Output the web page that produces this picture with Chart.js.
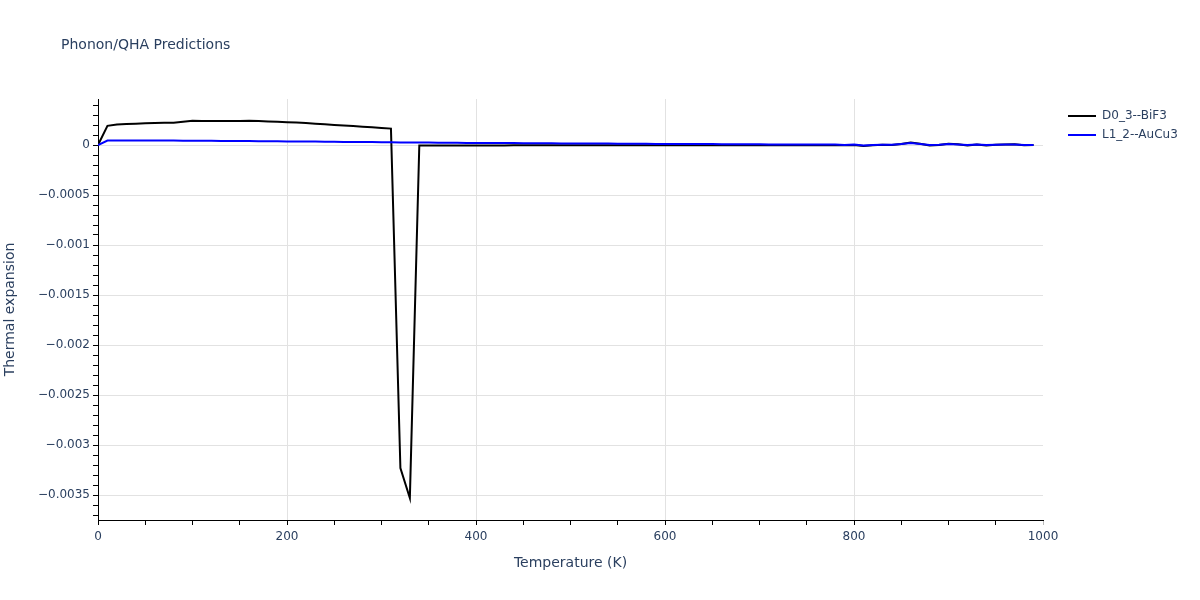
<!DOCTYPE html>
<html>
<head>
<meta charset="utf-8">
<title>Phonon/QHA Predictions</title>
<script src="https://cdn.jsdelivr.net/npm/chart.js@4.4.0/dist/chart.umd.min.js"></script>
<style>
  html, body { margin: 0; padding: 0; background: #fff; }
  #wrap { width: 1200px; height: 600px; }
</style>
</head>
<body>
<div id="wrap"><canvas id="chart" width="1200" height="600"></canvas></div>
<script>
  // temperatures (K)
  const temps = [
    0, 10, 20, 30, 40, 50, 60, 70, 80, 90,
    100, 110, 120, 130, 140, 150, 160, 170, 180, 190,
    200, 210, 220, 230, 240, 250, 260, 270, 280, 290,
    300, 310, 320, 330, 340, 350, 360, 370, 380, 390,
    400, 410, 420, 430, 440, 450, 460, 470, 480, 490,
    500, 510, 520, 530, 540, 550, 560, 570, 580, 590,
    600, 610, 620, 630, 640, 650, 660, 670, 680, 690,
    700, 710, 720, 730, 740, 750, 760, 770, 780, 790,
    800, 810, 820, 830, 840, 850, 860, 870, 880, 890,
    900, 910, 920, 930, 940, 950, 960, 970, 980, 990
  ];

  // D0_3--BiF3
  const bif3 = [
    0, 0.000192, 0.000205, 0.000209, 0.000213, 0.000217, 0.000221, 0.000222, 0.000222, 0.000233,
    0.000243, 0.00024, 0.00024, 0.00024, 0.000241, 0.000241, 0.000242, 0.00024, 0.000236, 0.000232,
    0.000228, 0.000224, 0.000219, 0.000213, 0.000207, 0.000201, 0.000195, 0.000189, 0.000183, 0.000177,
    0.000171, 0.000164, -0.00323, -0.00353, -0.000004, -0.000004, -0.000004, -0.000004, -0.000004, -0.000004,
    -0.000004, -0.000004, -0.000004, -0.000004, -0.000003, -0.000003, -0.000003, -0.000003, -0.000003, -0.000003,
    -0.000003, -0.000003, -0.000003, -0.000003, -0.000003, -0.000003, -0.000003, -0.000003, -0.000003, -0.000003,
    -0.000003, -0.000003, -0.000003, -0.000002, -0.000002, -0.000002, -0.000002, -0.000002, -0.000002, -0.000002,
    -0.000002, -0.000002, -0.000002, -0.000002, -0.000002, -0.000002, -0.000002, -0.000002, 0.000001, -0.000002,
    0.000001, -0.000011, -0.000003, 0.000002, 0.000001, 0.000011, 0.000024, 0.000013, -0.000004, 0.000001,
    0.000013, 0.000007, -0.000005, 0.000006, -0.000006, 0.000002, 0.000004, 0.000008, -0.000002, -0.000001
  ];

  // L1_2--AuCu3
  const aucu3 = [
    0, 0.000045, 0.000046, 0.000046, 0.000045, 0.000045, 0.000045, 0.000044, 0.000044, 0.000043,
    0.000043, 0.000042, 0.000042, 0.000041, 0.00004, 0.00004, 0.000039, 0.000038, 0.000038, 0.000037,
    0.000036, 0.000035, 0.000035, 0.000034, 0.000033, 0.000032, 0.000031, 0.000031, 0.00003, 0.000029,
    0.000028, 0.000027, 0.000026, 0.000025, 0.000024, 0.000024, 0.000023, 0.000023, 0.000022, 0.000021,
    0.000021, 0.00002, 0.00002, 0.000019, 0.000019, 0.000018, 0.000018, 0.000017, 0.000017, 0.000016,
    0.000016, 0.000015, 0.000015, 0.000014, 0.000014, 0.000013, 0.000013, 0.000012, 0.000012, 0.000011,
    0.000011, 0.00001, 0.00001, 0.000009, 0.000009, 0.000009, 0.000008, 0.000008, 0.000007, 0.000007,
    0.000007, 0.000006, 0.000006, 0.000005, 0.000005, 0.000005, 0.000004, 0.000004, 0.000006, 0.000001,
    0.000004, -0.000006, 0.000001, 0.000003, 0.000002, 0.000009, 0.00002, 0.000011, 0.000001, 0.000002,
    0.000009, 0.000006, 0.000001, 0.000005, -0.000001, 0.000002, 0.000004, 0.000006, 0.000001, 0
  ];

  const seriesNames = ['D0_3--BiF3', 'L1_2--AuCu3'];

  const xTickVals = [0, 200, 400, 600, 800, 1000];
  const xTickLabels = ['0', '200', '400', '600', '800', '1000'];
  const yTickVals = [0, -0.0005, -0.001, -0.0015, -0.002, -0.0025, -0.003, -0.0035];
  const yTickLabels = ['0', '\u22120.0005', '\u22120.001', '\u22120.0015', '\u22120.002', '\u22120.0025', '\u22120.003', '\u22120.0035'];

  const textColor = '#2a3f5f';
  const gridColor = '#e2e2e2';
  const none = 'rgba(0,0,0,0)';
  const family = '"DejaVu Sans", Verdana, sans-serif';
  Chart.defaults.font.family = family;

  const near = (a, b) => Math.abs(a - b) < 1e-9;
  const labelFor = (v, vals, labels) => {
    const i = vals.findIndex((t) => near(t, v));
    return i < 0 ? '' : labels[i];
  };
  const isMajor = (v, vals) => vals.some((t) => near(t, v));

  // title drawn at plotly-like spot, left of the plot area
  const titlePlugin = {
    id: 'plotTitle',
    afterDraw(chart) {
      const ctx = chart.ctx;
      ctx.save();
      ctx.font = '14px ' + family;
      ctx.fillStyle = textColor;
      ctx.textBaseline = 'middle';
      ctx.fillText('Phonon/QHA Predictions', 61, 45);
      ctx.restore();
    }
  };

  // keep the legend box snug to the right while leaving a gap after the plot
  const legendShift = {
    id: 'legendShift',
    afterInit(chart) {
      const lg = chart.legend;
      const fit = lg.fit.bind(lg);
      lg.fit = function () { fit(); this.width = 144; };
      const draw = lg.draw.bind(lg);
      lg.draw = function () {
        this.left += 18; this.top += 4;
        draw();
        this.left -= 18; this.top -= 4;
      };
    }
  };

  const ctx = document.getElementById('chart').getContext('2d');
  new Chart(ctx, {
    type: 'line',
    data: {
      labels: temps,
      datasets: [{
        label: seriesNames[0],
        data: bif3,
        borderColor: '#000000',
        backgroundColor: '#000000',
        borderWidth: 2,
        pointRadius: 0,
        tension: 0,
        order: 1
      }, {
        label: seriesNames[1],
        data: aucu3,
        borderColor: '#0000ff',
        backgroundColor: '#0000ff',
        borderWidth: 2,
        pointRadius: 0,
        tension: 0,
        order: 0
      }]
    },
    options: {
      responsive: false,
      animation: false,
      layout: { padding: { left: 0, top: 99, right: 13, bottom: 24 } },
      plugins: {
        title: { display: false },
        tooltip: { enabled: false },
        legend: {
          position: 'right',
          align: 'start',
          labels: {
            usePointStyle: true,
            pointStyle: 'line',
            pointStyleWidth: 28,
            padding: 7,
            color: textColor,
            font: { size: 12 },
            sort: (a, b) => a.datasetIndex - b.datasetIndex
          }
        }
      },
      scales: {
        x: {
          type: 'linear',
          min: 0,
          max: 1000,
          afterFit: (s) => { s.height = 56; },
          afterBuildTicks: (s) => {
            const t = [];
            for (let v = 0; v <= 1000; v += 50) t.push({ value: v });
            s.ticks = t;
          },
          border: { color: '#000', width: 1 },
          grid: {
            color: (c) => (c.tick && isMajor(c.tick.value, xTickVals) && c.tick.value > 0 && c.tick.value < 1000) ? gridColor : none,
            tickColor: (c) => (c.tick && c.tick.value === 1000) ? '#bbbbbb' : '#000',
            tickLength: 5
          },
          ticks: {
            autoSkip: false,
            maxRotation: 0,
            padding: 5,
            color: textColor,
            font: { size: 12 },
            callback: (v) => labelFor(v, xTickVals, xTickLabels)
          },
          title: {
            display: true,
            text: 'Temperature (K)',
            color: textColor,
            font: { size: 14 },
            padding: { top: 4, bottom: 4 }
          }
        },
        y: {
          type: 'linear',
          min: -0.00375,
          max: 0.00046,
          afterFit: (s) => { s.width = 98; },
          afterBuildTicks: (s) => {
            const t = [];
            for (let k = -37; k <= 4; k++) t.push({ value: k / 10000 });
            s.ticks = t;
          },
          border: { color: '#000', width: 1 },
          grid: {
            color: (c) => (c.tick && isMajor(c.tick.value, yTickVals)) ? gridColor : none,
            tickColor: '#000',
            tickLength: 5
          },
          ticks: {
            autoSkip: false,
            padding: 3,
            color: textColor,
            font: { size: 12 },
            callback: (v) => labelFor(v, yTickVals, yTickLabels)
          },
          title: {
            display: true,
            text: 'Thermal expansion',
            color: textColor,
            font: { size: 14 },
            padding: { top: 2, bottom: 2 }
          }
        }
      }
    },
    plugins: [titlePlugin, legendShift]
  });
</script>
</body>
</html>
